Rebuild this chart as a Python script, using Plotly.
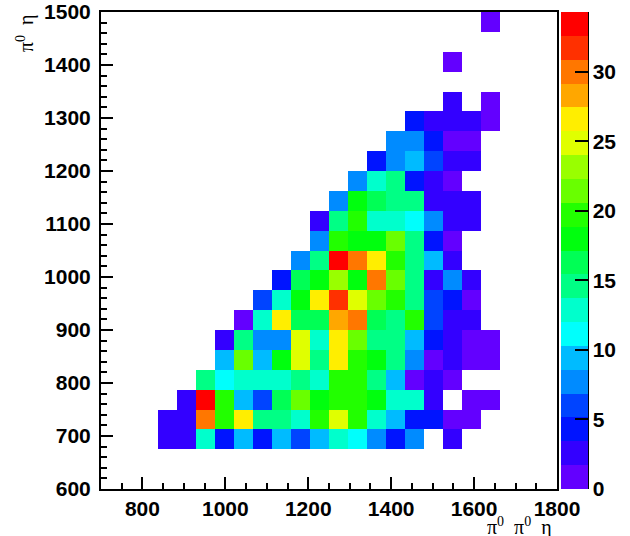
import plotly.graph_objects as go
import colorsys

# ---- binning (ROOT TH2: 24 x 24 bins) ----
x_lo, x_hi, nx = 700.0, 1800.0, 24
y_lo, y_hi, ny = 600.0, 1500.0, 24

# ---- bin contents, rows from y=600 upward, columns from x=700 rightward ----
row_00 = [0]*24
row_01 = [0]*24
row_02 = [0,0,0,3,3,13,4,9,4,9,6,9,13,11,8,4,8,0,3,0,0,0,0,0]
row_03 = [0,0,0,3,3,30,20,27,15,15,13,20,25,20,13,9,4,4,1,1,0,0,0,0]
row_04 = [0,0,0,0,3,34,20,9,6,16,21,18,20,20,18,13,13,3,0,1,1,0,0,0]
row_05 = [0,0,0,0,0,15,11,13,13,13,15,13,20,20,15,9,1,3,1,0,0,0,0,0]
row_06 = [0,0,0,0,0,0,9,21,9,18,25,15,27,20,18,15,8,1,3,1,1,0,0,0]
row_07 = [0,0,0,0,0,0,3,15,8,8,25,13,27,21,15,15,9,4,3,1,1,0,0,0]
row_08 = [0,0,0,0,0,0,0,1,13,27,16,16,28,30,16,15,20,6,3,3,0,0,0,0]
row_09 = [0,0,0,0,0,0,0,0,6,13,18,27,32,25,21,20,15,6,4,1,0,0,0,0]
row_10 = [0,0,0,0,0,0,0,0,0,4,16,18,23,18,30,21,15,3,8,3,0,0,0,0]
row_11 = [0,0,0,0,0,0,0,0,0,0,8,15,33,30,27,20,15,9,3,0,0,0,0,0]
row_12 = [0,0,0,0,0,0,0,0,0,0,0,8,20,18,18,21,15,4,1,0,0,0,0,0]
row_13 = [0,0,0,0,0,0,0,0,0,0,0,3,15,20,13,13,11,8,3,3,0,0,0,0]
row_14 = [0,0,0,0,0,0,0,0,0,0,0,0,8,18,16,15,15,3,3,3,0,0,0,0]
row_15 = [0,0,0,0,0,0,0,0,0,0,0,0,0,8,13,15,4,3,1,0,0,0,0,0]
row_16 = [0,0,0,0,0,0,0,0,0,0,0,0,0,0,4,8,9,6,3,3,0,0,0,0]
row_17 = [0,0,0,0,0,0,0,0,0,0,0,0,0,0,0,8,8,4,1,1,0,0,0,0]
row_18 = [0,0,0,0,0,0,0,0,0,0,0,0,0,0,0,0,4,3,3,3,1,0,0,0]
row_19 = [0,0,0,0,0,0,0,0,0,0,0,0,0,0,0,0,0,0,3,0,1,0,0,0]
row_20 = [0]*24
row_21 = [0,0,0,0,0,0,0,0,0,0,0,0,0,0,0,0,0,0,1,0,0,0,0,0]
row_22 = [0]*24
row_23 = [0,0,0,0,0,0,0,0,0,0,0,0,0,0,0,0,0,0,0,0,1,0,0,0]

rows = [row_00, row_01, row_02, row_03, row_04, row_05, row_06, row_07,
        row_08, row_09, row_10, row_11, row_12, row_13, row_14, row_15,
        row_16, row_17, row_18, row_19, row_20, row_21, row_22, row_23]

z_max = 34.3
n_levels = 20
x_ticks = [800, 1000, 1200, 1400, 1600, 1800]
y_ticks = [600, 700, 800, 900, 1000, 1100, 1200, 1300, 1400, 1500]
z_ticks = [0, 5, 10, 15, 20, 25, 30]
x_title = "π<sup>0</sup>\u00a0\u00a0π<sup>0</sup>\u00a0\u00a0η"
y_title = "π<sup>0</sup>\u00a0\u00a0η"

# empty bins are not drawn (ROOT COLZ)
Z = [[(v if v > 0 else None) for v in r] for r in rows]

# ROOT "pretty" palette (50 hues 280 -> 0), sampled for 20 contour levels
def root_color(j):
    idx = int((j + 0.99) * 50 / n_levels)
    hue = 280 - (idx + 1) * (280.0 / 50)
    r, g, b = colorsys.hls_to_rgb(hue / 360.0, 0.5, 1.0)
    return "rgb(%d,%d,%d)" % (round(r * 255), round(g * 255), round(b * 255))

cscale = []
for j in range(n_levels):
    c = root_color(j)
    cscale.append([j / n_levels, c])
    cscale.append([(j + 1) / n_levels, c])

dx = (x_hi - x_lo) / nx
dy = (y_hi - y_lo) / ny

L, R, T, B = 101, 73, 12, 47
W, H = 630, 536
pw = W - L - R
ph = H - T - B

bold = dict(family="Liberation Sans, Arial, sans-serif", size=21, color="black", weight="bold")

fig = go.Figure(go.Heatmap(
    z=Z, x0=x_lo + dx / 2, dx=dx, y0=y_lo + dy / 2, dy=dy,
    zmin=0, zmax=z_max, colorscale=cscale, hoverongaps=False,
    colorbar=dict(
        x=(561 - L) / pw, xanchor="left", xpad=0,
        y=0.5, yanchor="middle", ypad=0, len=1, lenmode="fraction",
        thickness=27, outlinewidth=0,
        tickvals=z_ticks, ticks="inside", ticklen=13, tickwidth=2, tickcolor="black",
        tickfont=bold,
    ),
))

axis_common = dict(
    showgrid=False, zeroline=False, showline=True, linewidth=2, linecolor="black",
    mirror=True, ticks="inside", ticklen=12, tickwidth=2, tickcolor="black",
    tickfont=bold,
)
fig.update_xaxes(range=[x_lo, x_hi], tickvals=x_ticks,
                 minor=dict(dtick=50, tick0=700, ticks="inside", ticklen=6, tickwidth=2, tickcolor="black"),
                 **axis_common)
fig.update_yaxes(range=[y_lo, y_hi], tickvals=y_ticks, ticklabelstandoff=4,
                 minor=dict(dtick=20, tick0=600, ticks="inside", ticklen=6, tickwidth=2, tickcolor="black"),
                 **axis_common)

serif = dict(family="Liberation Serif, Times New Roman, serif", size=20, color="black")
fig.add_annotation(text=x_title, xref="paper", yref="paper",
                   x=(554 - L) / pw, y=(489 - 526) / ph, xanchor="right", yanchor="middle",
                   showarrow=False, font=serif)
fig.add_annotation(text=y_title, xref="paper", yref="paper",
                   x=(25 - L) / pw, y=1.0, xanchor="center", yanchor="top", textangle=-90,
                   showarrow=False, font=serif)

# right edge line of the colour scale
fig.add_shape(type="line", xref="paper", yref="paper",
              x0=(588 - L) / pw, x1=(588 - L) / pw, y0=0, y1=1,
              line=dict(color="black", width=2))

fig.update_layout(width=W, height=H, margin=dict(l=L, r=R, t=T, b=B, autoexpand=False),
                  paper_bgcolor="white", plot_bgcolor="white", showlegend=False)

fig.write_html("out.html")
